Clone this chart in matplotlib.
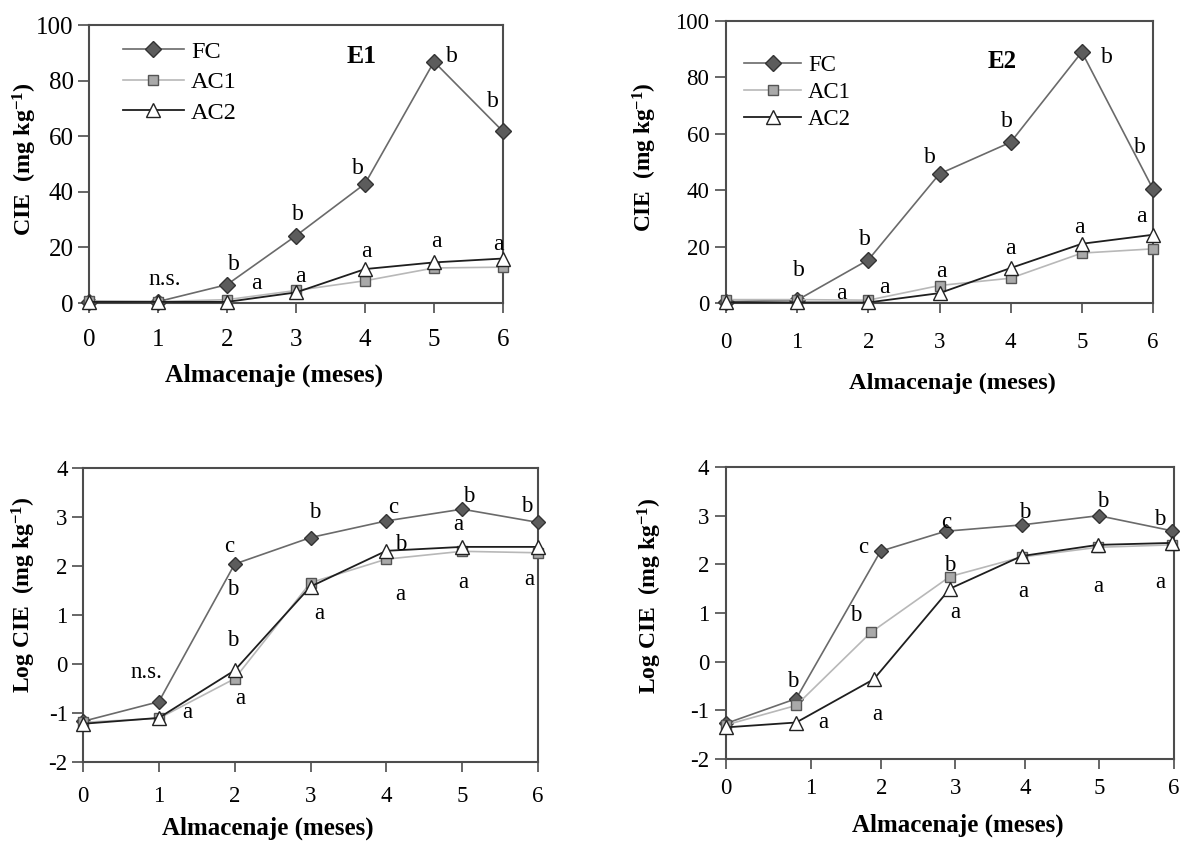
import matplotlib
matplotlib.use('Agg')
import matplotlib.pyplot as plt

plt.rcParams['font.family'] = ['Liberation Serif', 'DejaVu Serif']
plt.rcParams['mathtext.fontset'] = 'custom'
plt.rcParams['mathtext.rm'] = 'Liberation Serif'
plt.rcParams['mathtext.bf'] = 'Liberation Serif:bold'
plt.rcParams['mathtext.default'] = 'bf'
plt.rcParams['axes.unicode_minus'] = False

# ---------------- data ----------------
months = [0, 1, 2, 3, 4, 5, 6]
series_names = ['FC', 'AC1', 'AC2']
tick_labels = ['0', '1', '2', '3', '4', '5', '6']

# E1 (CIE, mg/kg)
e1_fc = [0.5, 0.5, 6.6, 24.2, 42.9, 86.8, 61.7]
e1_ac1 = [0.8, 0.5, 1.2, 4.5, 8.0, 12.6, 12.9]
e1_ac2 = [0.4, 0.4, 0.4, 3.8, 12.2, 14.6, 16.0]

# E2 (CIE, mg/kg)
e2_fc = [0.5, 1.0, 15.3, 45.8, 57.0, 89.0, 40.4]
e2_ac1 = [1.2, 1.2, 1.0, 6.2, 8.8, 17.7, 19.2]
e2_ac2 = [0.2, 0.2, 0.2, 3.5, 12.4, 21.0, 24.2]

# Log CIE, E1
log1_fc = [-1.17, -0.77, 2.04, 2.58, 2.92, 3.16, 2.89]
log1_ac1 = [-1.19, -1.11, -0.30, 1.66, 2.14, 2.30, 2.27]
log1_ac2 = [-1.22, -1.10, -0.13, 1.58, 2.31, 2.39, 2.39]

# Log CIE, E2 (points sit slightly off the month ticks in the original)
log2_x_fc = [0, 0.94, 2.07, 2.94, 3.96, 4.99, 5.97]
log2_x_ac1 = [0, 0.94, 1.94, 3.0, 3.96, 4.98, 5.97]
log2_x_ac2 = [0, 0.94, 1.98, 3.0, 3.96, 4.98, 5.97]
log2_fc = [-1.27, -0.76, 2.27, 2.68, 2.81, 3.00, 2.69]
log2_ac1 = [-1.30, -0.90, 0.60, 1.75, 2.15, 2.35, 2.40]
log2_ac2 = [-1.35, -1.25, -0.36, 1.50, 2.17, 2.40, 2.44]

# significance letters: (x, y, text)
ann_e1 = [(1.09, 8.3, 'n.s.'), (2.1, 13.7, 'b'), (2.43, 7, 'a'), (3.03, 31.7, 'b'),
          (3.06, 9.4, 'a'), (3.89, 48.5, 'b'), (4.02, 18.5, 'a'), (5.26, 88.6, 'b'),
          (5.04, 22, 'a'), (5.85, 72.4, 'b'), (5.93, 21, 'a')]
ann_e2 = [(1.03, 11.4, 'b'), (1.95, 22.6, 'b'), (1.62, 3.2, 'a'), (2.23, 5.6, 'a'),
          (2.87, 51.7, 'b'), (3.03, 11, 'a'), (3.94, 64.5, 'b'), (4.0, 19.5, 'a'),
          (5.35, 87.2, 'b'), (4.97, 26.6, 'a'), (5.81, 55.3, 'b'), (5.83, 30.5, 'a')]
ann_l1 = [(0.84, -0.18, 'n.s.'), (1.37, -1.0, 'a'), (1.93, 2.39, 'c'), (1.97, 1.53, 'b'),
          (1.98, 0.48, 'b'), (2.08, -0.7, 'a'), (3.06, 3.09, 'b'), (3.12, 1.04, 'a'),
          (4.09, 3.2, 'c'), (4.19, 2.43, 'b'), (4.19, 1.41, 'a'), (5.08, 3.41, 'b'),
          (4.95, 2.84, 'a'), (5.02, 1.66, 'a'), (5.85, 3.21, 'b'), (5.88, 1.73, 'a')]
ann_l2 = [(0.90, -0.41, 'b'), (1.30, -1.26, 'a'), (1.84, 2.34, 'c'), (1.74, 0.94, 'b'),
          (2.03, -1.08, 'a'), (2.95, 2.86, 'c'), (3.0, 1.97, 'b'), (3.07, 1.0, 'a'),
          (4.0, 3.06, 'b'), (3.98, 1.44, 'a'), (5.04, 3.29, 'b'), (4.99, 1.54, 'a'),
          (5.81, 2.93, 'b'), (5.81, 1.62, 'a')]

# ---------------- styles ----------------
W, H = 1180, 841
styles = {
    'FC': dict(color='#6a6a6a', lw=1.2, marker='D', mfc='#5c5c5c', mec='#333333', mew=1.0),
    'AC1': dict(color='#b8b8b8', lw=1.2, marker='s', mfc='#a9a9a9', mec='#555555', mew=1.0),
    'AC2': dict(color='#1e1e1e', lw=1.3, marker='^', mfc='white', mec='#222222', mew=1.0),
}
spine_col = '#4d4d4d'

fig = plt.figure(figsize=(W / 100, H / 100), dpi=100)


def make_ax(left, right, top, bottom):
    return fig.add_axes([left / W, 1 - bottom / H, (right - left) / W, (bottom - top) / H])


def style_ax(ax, tsize, xpad, ypad):
    for s in ax.spines.values():
        s.set_color(spine_col)
        s.set_linewidth(1.5)
    ax.tick_params(axis='both', direction='out', color=spine_col, width=1.2,
                   labelsize=tsize)
    ax.tick_params(axis='x', length=7, pad=xpad)
    ax.tick_params(axis='y', length=8, pad=ypad)


def plot_series(ax, xs, ys, sizes):
    for name, x, y in zip(series_names, xs, ys):
        st = styles[name]
        ax.plot(x, y, color=st['color'], lw=st['lw'], marker=st['marker'],
                ms=sizes[name], mfc=st['mfc'], mec=st['mec'], mew=st['mew'],
                clip_on=False, label=name, zorder=3)


big = {'FC': 8.6, 'AC1': 7.4, 'AC2': 10.5}
small = {'FC': 7.2, 'AC1': 7.4, 'AC2': 10.0}

# ---- Panel E1 ----
ax1 = make_ax(89, 503, 25, 303)
plot_series(ax1, [months] * 3, [e1_fc, e1_ac1, e1_ac2], big)
ax1.set_xlim(0, 6)
ax1.set_ylim(0, 100)
ax1.set_xticks(months)
ax1.set_xticklabels(tick_labels)
ax1.set_yticks([0, 20, 40, 60, 80, 100])
style_ax(ax1, 18, 12, 3)
for x, y, t in ann_e1:
    ax1.text(x, y, t, ha='center', va='center', fontsize=17)
ax1.text(3.95, 88.6, 'E1', ha='center', va='center', fontsize=18.5, fontweight='bold')
ax1.set_xlabel('Almacenaje (meses)', fontsize=18.5, fontweight='bold', va='center')
ax1.xaxis.set_label_coords(0.448, -0.259)
ax1.set_ylabel('CIE  (mg kg$^{-1}$)', fontsize=17.3, fontweight='bold', va='center', ha='center')
ax1.yaxis.set_label_coords(-0.155, 0.518)
ax1.legend(loc='upper left', bbox_to_anchor=(0.082, 0.944), frameon=False, fontsize=17.5,
           handlelength=2.5, handletextpad=0.3, labelspacing=0.35, borderpad=0,
           borderaxespad=0, numpoints=1)

# ---- Panel E2 ----
ax2 = make_ax(726, 1153, 21, 303)
plot_series(ax2, [months] * 3, [e2_fc, e2_ac1, e2_ac2], big)
ax2.set_xlim(0, 6)
ax2.set_ylim(0, 100)
ax2.set_xticks(months)
ax2.set_xticklabels(tick_labels)
ax2.set_yticks([0, 20, 40, 60, 80, 100])
style_ax(ax2, 16.5, 14, 4)
for x, y, t in ann_e2:
    ax2.text(x, y, t, ha='center', va='center', fontsize=17)
ax2.text(3.88, 85.5, 'E2', ha='center', va='center', fontsize=18, fontweight='bold')
ax2.set_xlabel('Almacenaje (meses)', fontsize=17.6, fontweight='bold', va='center')
ax2.xaxis.set_label_coords(0.53, -0.284)
ax2.set_ylabel('CIE  (mg kg$^{-1}$)', fontsize=16.8, fontweight='bold', va='center', ha='center')
ax2.yaxis.set_label_coords(-0.19, 0.518)
ax2.legend(loc='upper left', bbox_to_anchor=(0.042, 0.879), frameon=False, fontsize=16.5,
           handlelength=2.5, handletextpad=0.3, labelspacing=0.26, borderpad=0,
           borderaxespad=0, numpoints=1)

# ---- Panel Log E1 ----
ax3 = make_ax(83, 538, 468, 762)
plot_series(ax3, [months] * 3, [log1_fc, log1_ac1, log1_ac2], small)
ax3.set_xlim(0, 6)
ax3.set_ylim(-2, 4)
ax3.set_xticks(months)
ax3.set_xticklabels(tick_labels)
ax3.set_yticks([-2, -1, 0, 1, 2, 3, 4])
style_ax(ax3, 16.5, 10, 3)
for x, y, t in ann_l1:
    ax3.text(x, y, t, ha='center', va='center', fontsize=16.5)
ax3.set_xlabel('Almacenaje (meses)', fontsize=18, fontweight='bold', va='center')
ax3.xaxis.set_label_coords(0.407, -0.226)
ax3.set_ylabel('Log CIE  (mg kg$^{-1}$)', fontsize=17, fontweight='bold', va='center', ha='center')
ax3.yaxis.set_label_coords(-0.13, 0.568)

# ---- Panel Log E2 ----
ax4 = make_ax(726, 1174, 467, 759)
plot_series(ax4, [log2_x_fc, log2_x_ac1, log2_x_ac2], [log2_fc, log2_ac1, log2_ac2], small)
ax4.set_xlim(0, 6)
ax4.set_ylim(-2, 4)
ax4.set_xticks([0, 1.14, 2.08, 3.07, 4.01, 5.0, 6.0])
ax4.set_xticklabels(tick_labels)
ax4.set_yticks([-2, -1, 0, 1, 2, 3, 4])
style_ax(ax4, 16.5, 7, 4)
for x, y, t in ann_l2:
    ax4.text(x, y, t, ha='center', va='center', fontsize=16.5)
ax4.set_xlabel('Almacenaje (meses)', fontsize=18, fontweight='bold', va='center')
ax4.xaxis.set_label_coords(0.518, -0.226)
ax4.set_ylabel('Log CIE  (mg kg$^{-1}$)', fontsize=17, fontweight='bold', va='center', ha='center')
ax4.yaxis.set_label_coords(-0.17, 0.558)

fig.savefig('out.png', dpi=100)
